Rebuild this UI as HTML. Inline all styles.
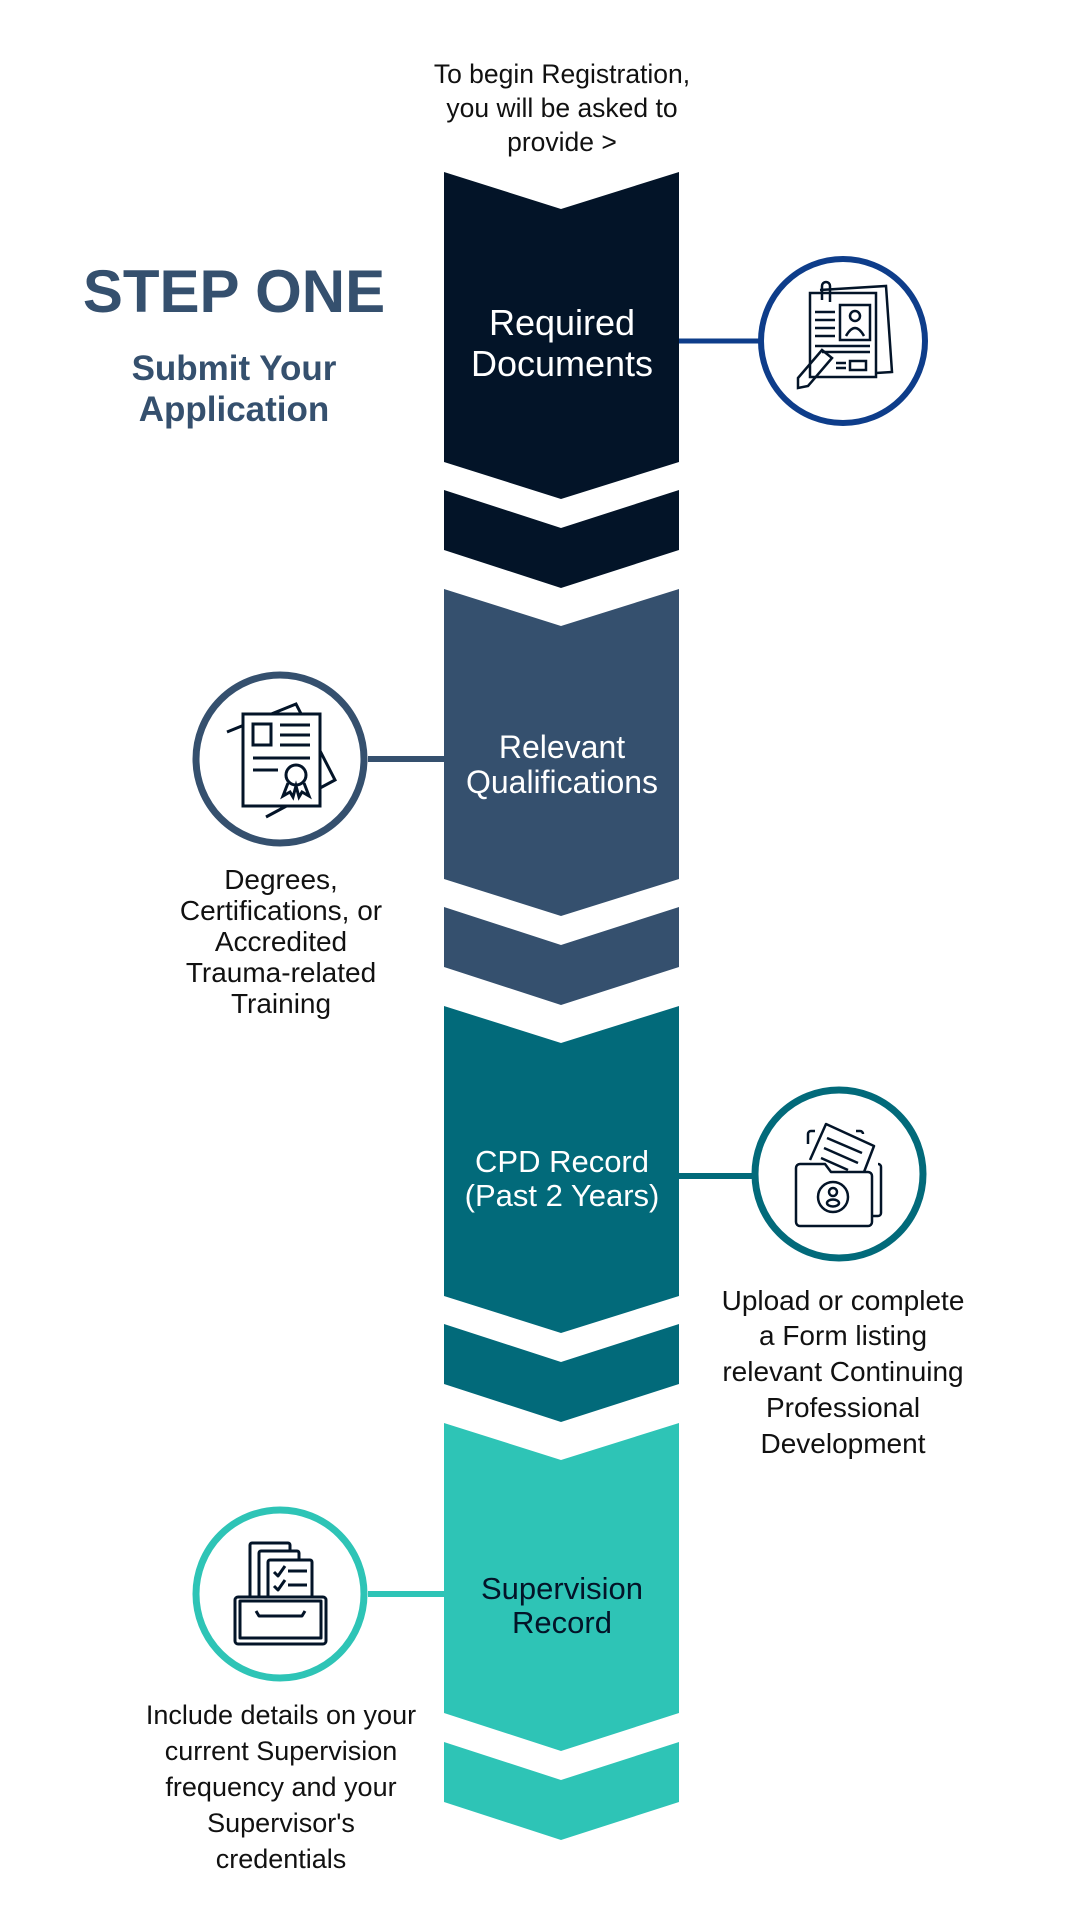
<!DOCTYPE html>
<html><head><meta charset="utf-8"><style>
html,body{margin:0;padding:0;background:#fff;width:1080px;height:1920px;overflow:hidden}
svg{display:block}
text{font-family:"Liberation Sans",sans-serif}
</style></head><body>
<svg width="1080" height="1920" viewBox="0 0 1080 1920" xmlns="http://www.w3.org/2000/svg">
<g>
<path d="M444,172 L561,209 L679,172 L679,462 L561,499 L444,462 Z" fill="#031428"/>
<path d="M444,490 L561,528 L679,490 L679,550 L561,588 L444,550 Z" fill="#031428"/>
<path d="M444,589 L561,626 L679,589 L679,879 L561,916 L444,879 Z" fill="#35506e"/>
<path d="M444,907 L561,945 L679,907 L679,967 L561,1005 L444,967 Z" fill="#35506e"/>
<path d="M444,1006 L561,1043 L679,1006 L679,1296 L561,1333 L444,1296 Z" fill="#026a7a"/>
<path d="M444,1324 L561,1362 L679,1324 L679,1384 L561,1422 L444,1384 Z" fill="#026a7a"/>
<path d="M444,1423 L561,1460 L679,1423 L679,1713 L561,1751 L444,1713 Z" fill="#2ec4b6"/>
<path d="M444,1742 L561,1780 L679,1742 L679,1802 L561,1840 L444,1802 Z" fill="#2ec4b6"/>
</g>
<line x1="679" y1="341" x2="760" y2="341" stroke="#0e3d8a" stroke-width="5"/>
<circle cx="843" cy="341" r="82" fill="#fff" stroke="#0e3d8a" stroke-width="6"/>
<line x1="368" y1="759" x2="444" y2="759" stroke="#35506e" stroke-width="6"/>
<circle cx="280" cy="759" r="84" fill="#fff" stroke="#35506e" stroke-width="7"/>
<line x1="679" y1="1176" x2="754" y2="1176" stroke="#026a7a" stroke-width="6"/>
<circle cx="839" cy="1174" r="84" fill="#fff" stroke="#026a7a" stroke-width="7"/>
<line x1="368" y1="1594" x2="444" y2="1594" stroke="#2ec4b6" stroke-width="6"/>
<circle cx="280" cy="1594" r="84" fill="#fff" stroke="#2ec4b6" stroke-width="7"/>
<g fill="none" stroke="#031428" stroke-width="2.5">
<path d="M820,290 L886,286 L892,372 L876,373"/>
<rect x="810" y="293" width="66" height="84"/>
<path d="M822,300 v-14 a4,4 0 0 1 8,0 v16"/>
<line x1="815" y1="312" x2="835" y2="312"/><line x1="815" y1="320" x2="835" y2="320"/><line x1="815" y1="328" x2="835" y2="328"/><line x1="815" y1="336" x2="835" y2="336"/>
<rect x="840" y="305" width="30" height="35"/>
<circle cx="855" cy="316" r="5"/><path d="M846,336 q9,-16 18,0"/>
<line x1="815" y1="346" x2="870" y2="346"/><line x1="822" y1="352" x2="870" y2="352"/>
<rect x="850" y="361" width="16" height="9"/><line x1="836" y1="363" x2="846" y2="363"/><line x1="836" y1="368" x2="846" y2="368"/>
<path d="M798,378 L822,350 L832,358 L808,386 L798,388 Z"/>
</g>
<g fill="none" stroke="#031428" stroke-width="3">
<path d="M227,732 L296,704 L335,780 L266,817"/>
<rect x="243" y="714" width="77" height="92" fill="#fff"/>
<rect x="253" y="724" width="18" height="21"/>
<line x1="280" y1="725" x2="310" y2="725"/><line x1="280" y1="735" x2="310" y2="735"/><line x1="280" y1="745" x2="310" y2="745"/>
<line x1="253" y1="758" x2="310" y2="758"/><line x1="253" y1="770" x2="278" y2="770"/>
<circle cx="296" cy="775" r="10"/><path d="M288,783 L283,796 L290,792 L293,797 L296,786 L299,797 L302,792 L309,796 L304,783"/>
</g>
<g fill="none" stroke="#031428" stroke-width="2.5" stroke-linejoin="round">
<path d="M808,1144 v-10 a3,3 0 0 1 3,-3 h4"/>
<path d="M856,1131 h4 a3,3 0 0 1 3,3"/>
<path d="M878,1164 a3,3 0 0 1 3,3 v46 a3,3 0 0 1 -3,3 h-6"/>
<path d="M810,1160 L826,1124 L874,1146 L864,1172"/>
<line x1="827" y1="1138" x2="862" y2="1153"/><line x1="824" y1="1148" x2="858" y2="1163"/><line x1="821" y1="1158" x2="848" y2="1170"/>
<path d="M796,1168 a4,4 0 0 1 4,-4 h25 l6,8 h37 a4,4 0 0 1 4,4 v46 a4,4 0 0 1 -4,4 h-68 a4,4 0 0 1 -4,-4 Z" fill="#fff"/>
<circle cx="833" cy="1197" r="15"/><circle cx="833" cy="1192" r="4"/><ellipse cx="833" cy="1203" rx="6" ry="3.5"/>
</g>
<g fill="none" stroke="#031428" stroke-width="3" stroke-linejoin="round">
<rect x="250" y="1543" width="40" height="60" rx="2"/>
<rect x="259" y="1551" width="40" height="52" rx="2" fill="#fff"/>
<rect x="268" y="1560" width="44" height="43" rx="2" fill="#fff"/>
<path d="M274,1572 l4,4 l7,-10"/><line x1="288" y1="1571" x2="307" y2="1571"/>
<path d="M274,1586 l4,4 l7,-10"/><line x1="288" y1="1585" x2="307" y2="1585"/>
<rect x="235" y="1597" width="91" height="47" rx="3" fill="#fff"/>
<rect x="240" y="1601" width="81" height="37"/>
<path d="M256,1611 l3,5 h43 l3,-5"/>
</g>
<g font-size="26.5" fill="#111" text-anchor="middle">
<text x="562" y="83">To begin Registration,</text>
<text x="562" y="117">you will be asked to</text>
<text x="562" y="151">provide &gt;</text>
</g>
<text x="234" y="312" font-size="60" font-weight="bold" fill="#35506e" text-anchor="middle">STEP ONE</text>
<g font-size="35" font-weight="bold" fill="#35506e" text-anchor="middle">
<text x="234" y="380">Submit Your</text>
<text x="234" y="421">Application</text>
</g>
<g font-size="36" fill="#fff" text-anchor="middle">
<text x="562" y="335">Required</text>
<text x="562" y="376">Documents</text>
</g>
<g font-size="32" fill="#fff" text-anchor="middle">
<text x="562" y="758">Relevant</text>
<text x="562" y="793">Qualifications</text>
</g>
<g font-size="31" fill="#fff" text-anchor="middle">
<text x="562" y="1172">CPD Record</text>
<text x="562" y="1206">(Past 2 Years)</text>
</g>
<g font-size="31" fill="#031428" text-anchor="middle">
<text x="562" y="1599">Supervision</text>
<text x="562" y="1633">Record</text>
</g>
<g font-size="28" fill="#111" text-anchor="middle">
<text x="281" y="889">Degrees,</text>
<text x="281" y="920">Certifications, or</text>
<text x="281" y="951">Accredited</text>
<text x="281" y="982">Trauma-related</text>
<text x="281" y="1013">Training</text>
<text x="843" y="1310">Upload or complete</text>
<text x="843" y="1345">a Form listing</text>
<text x="843" y="1381">relevant Continuing</text>
<text x="843" y="1417">Professional</text>
<text x="843" y="1453">Development</text>
</g>
<g font-size="27" fill="#111" text-anchor="middle">
<text x="281" y="1724">Include details on your</text>
<text x="281" y="1760">current Supervision</text>
<text x="281" y="1796">frequency and your</text>
<text x="281" y="1832">Supervisor's</text>
<text x="281" y="1868">credentials</text>
</g>
</svg>
</body></html>
